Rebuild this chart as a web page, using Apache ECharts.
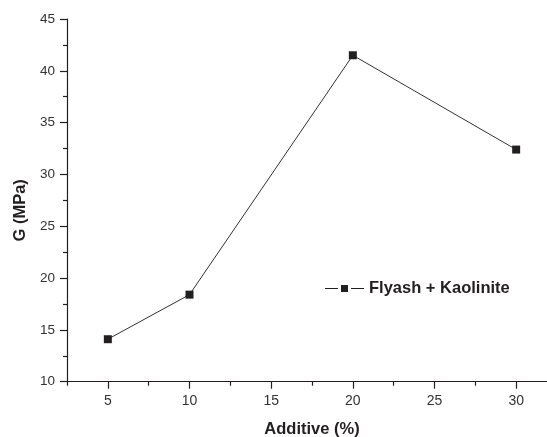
<!DOCTYPE html>
<html>
<head>
<meta charset="utf-8">
<script src="https://cdn.jsdelivr.net/npm/echarts@6/dist/echarts.min.js"></script>
<style>html,body{margin:0;padding:0;background:#fff;}#c{width:547px;height:437px;}</style>
</head>
<body>
<div id="c"></div>
<script>
var additive = [5, 10, 20, 30];
var gValues = [14.1, 18.4, 41.5, 32.4];
var xMajorTicks = [5, 10, 15, 20, 25, 30];
var xMinorTicks = [2.5, 7.5, 12.5, 17.5, 22.5, 27.5, 32.5];
var seriesName = 'Flyash + Kaolinite';

var chart = echarts.init(document.getElementById('c'), null, {renderer: 'canvas'});
var font = 'Liberation Sans, Arial, sans-serif';
chart.setOption({
  animation: false,
  backgroundColor: '#fff',
  grid: {left: 67, top: 19, width: 490, height: 362.7, outerBoundsMode: 'none', containLabel: false},
  legend: {
    data: [{name: seriesName, icon: 'path://M0,3h13v1h-13z M16,0h7v7h-7z M26,3h13v1h-13z'}],
    left: 325, top: 280, padding: 0,
    itemWidth: 39, itemHeight: 7, itemGap: 4,
    textStyle: {fontFamily: font, fontWeight: 'bold', fontSize: 16.5, color: '#231f20'}
  },
  xAxis: [{
    type: 'value', min: 2.5, max: 32.5,
    name: 'Additive (%)', nameLocation: 'middle', nameGap: 39,
    nameTextStyle: {fontFamily: font, fontWeight: 'bold', fontSize: 16.5, color: '#231f20'},
    axisLine: {show: true, lineStyle: {color: '#231f20', width: 1.2}},
    axisTick: {show: true, customValues: xMajorTicks, length: 7, lineStyle: {color: '#231f20', width: 1.2}},
    axisLabel: {customValues: xMajorTicks, fontFamily: font, fontSize: 14, color: '#333', margin: 12},
    splitLine: {show: false}
  }, {
    type: 'value', min: 2.5, max: 32.5, position: 'bottom', gridIndex: 0,
    axisLine: {show: false},
    axisTick: {show: true, customValues: xMinorTicks, length: 4, lineStyle: {color: '#231f20', width: 1.2}},
    axisLabel: {show: false},
    splitLine: {show: false}
  }],
  yAxis: {
    type: 'value', min: 10, max: 45, interval: 5,
    name: 'G (MPa)', nameLocation: 'middle', nameGap: 34,
    nameTextStyle: {fontFamily: font, fontWeight: 'bold', fontSize: 16.5, color: '#231f20', padding: [0, 20, 0, 0]},
    axisLine: {show: true, lineStyle: {color: '#231f20', width: 1.2}},
    axisTick: {show: true, length: 7, lineStyle: {color: '#231f20', width: 1.2}},
    minorTick: {show: true, splitNumber: 2, length: 4, lineStyle: {color: '#231f20', width: 1.2}},
    axisLabel: {fontFamily: font, fontSize: 13.5, color: '#333', margin: 12},
    splitLine: {show: false}
  },
  series: [{
    name: seriesName,
    type: 'line',
    xAxisIndex: 0,
    data: additive.map(function (x, i) { return [x, gValues[i]]; }),
    symbol: 'rect', symbolSize: 8,
    lineStyle: {color: '#333', width: 1},
    itemStyle: {color: '#231f20'}
  }]
});
</script>
</body>
</html>
